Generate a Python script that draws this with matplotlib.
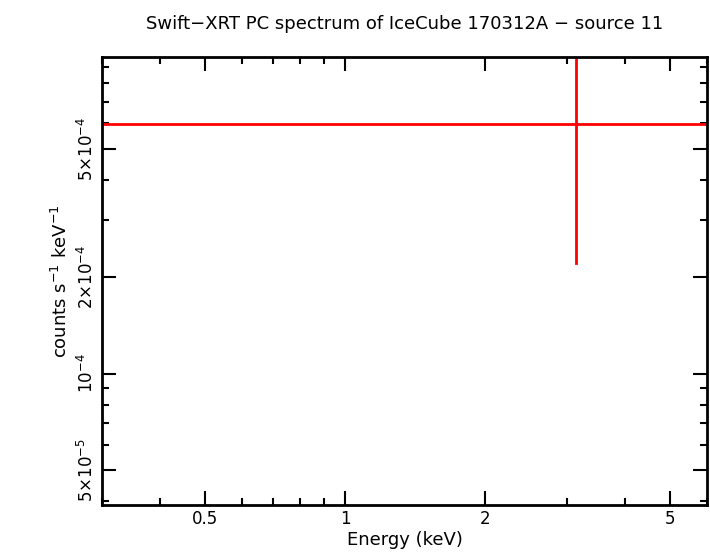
import matplotlib
matplotlib.use("Agg")
import matplotlib.pyplot as plt
from matplotlib.ticker import FixedLocator, NullFormatter, LogLocator

# single spectral bin
bin_energy = [3.14]
bin_lo = [0.3]
bin_hi = [6.0]
bin_rate = [5.98e-4]
bin_err = [3.77e-4]

x_ticks = [0.5, 1, 2, 5]
x_labels = ["0.5", "1", "2", "5"]
y_ticks = [5e-5, 1e-4, 2e-4, 5e-4]
y_labels = [r"5$\times$10$^{-5}$", r"10$^{-4}$", r"2$\times$10$^{-4}$", r"5$\times$10$^{-4}$"]

fig = plt.figure(figsize=(7.10, 5.56), dpi=100)
ax = fig.add_axes([102 / 710, 1 - 505 / 556, 605 / 710, 448 / 556])
ax.set_xscale("log")
ax.set_yscale("log")
ax.set_xlim(0.3, 6.0)
ax.set_ylim(3.9e-5, 9.65e-4)

for e, lo, hi, r, err in zip(bin_energy, bin_lo, bin_hi, bin_rate, bin_err):
    ax.plot([lo, hi], [r, r], color="red", lw=2)
    ax.plot([e, e], [r - err, r + err], color="red", lw=2)

ax.xaxis.set_major_locator(FixedLocator(x_ticks))
ax.set_xticklabels(x_labels)
ax.xaxis.set_minor_locator(LogLocator(base=10, subs=range(1, 10)))
ax.xaxis.set_minor_formatter(NullFormatter())
ax.yaxis.set_major_locator(FixedLocator(y_ticks))
ax.set_yticklabels(y_labels, rotation=90, va="center")
ax.yaxis.set_minor_locator(LogLocator(base=10, subs=range(1, 10)))
ax.yaxis.set_minor_formatter(NullFormatter())

ax.tick_params(which="both", direction="in", top=True, right=True, labelsize=12, width=1.5)
ax.tick_params(which="major", length=10)
ax.tick_params(which="minor", length=5)
for s in ax.spines.values():
    s.set_linewidth(2)

ax.set_xlabel("Energy (keV)", fontsize=13, labelpad=2)
ax.set_ylabel(r"counts s$^{-1}$ keV$^{-1}$", fontsize=13)
ax.set_title("Swift\u2212XRT PC spectrum of IceCube 170312A \u2212 source 11", fontsize=13, pad=20)

fig.savefig("out.png", dpi=100)
